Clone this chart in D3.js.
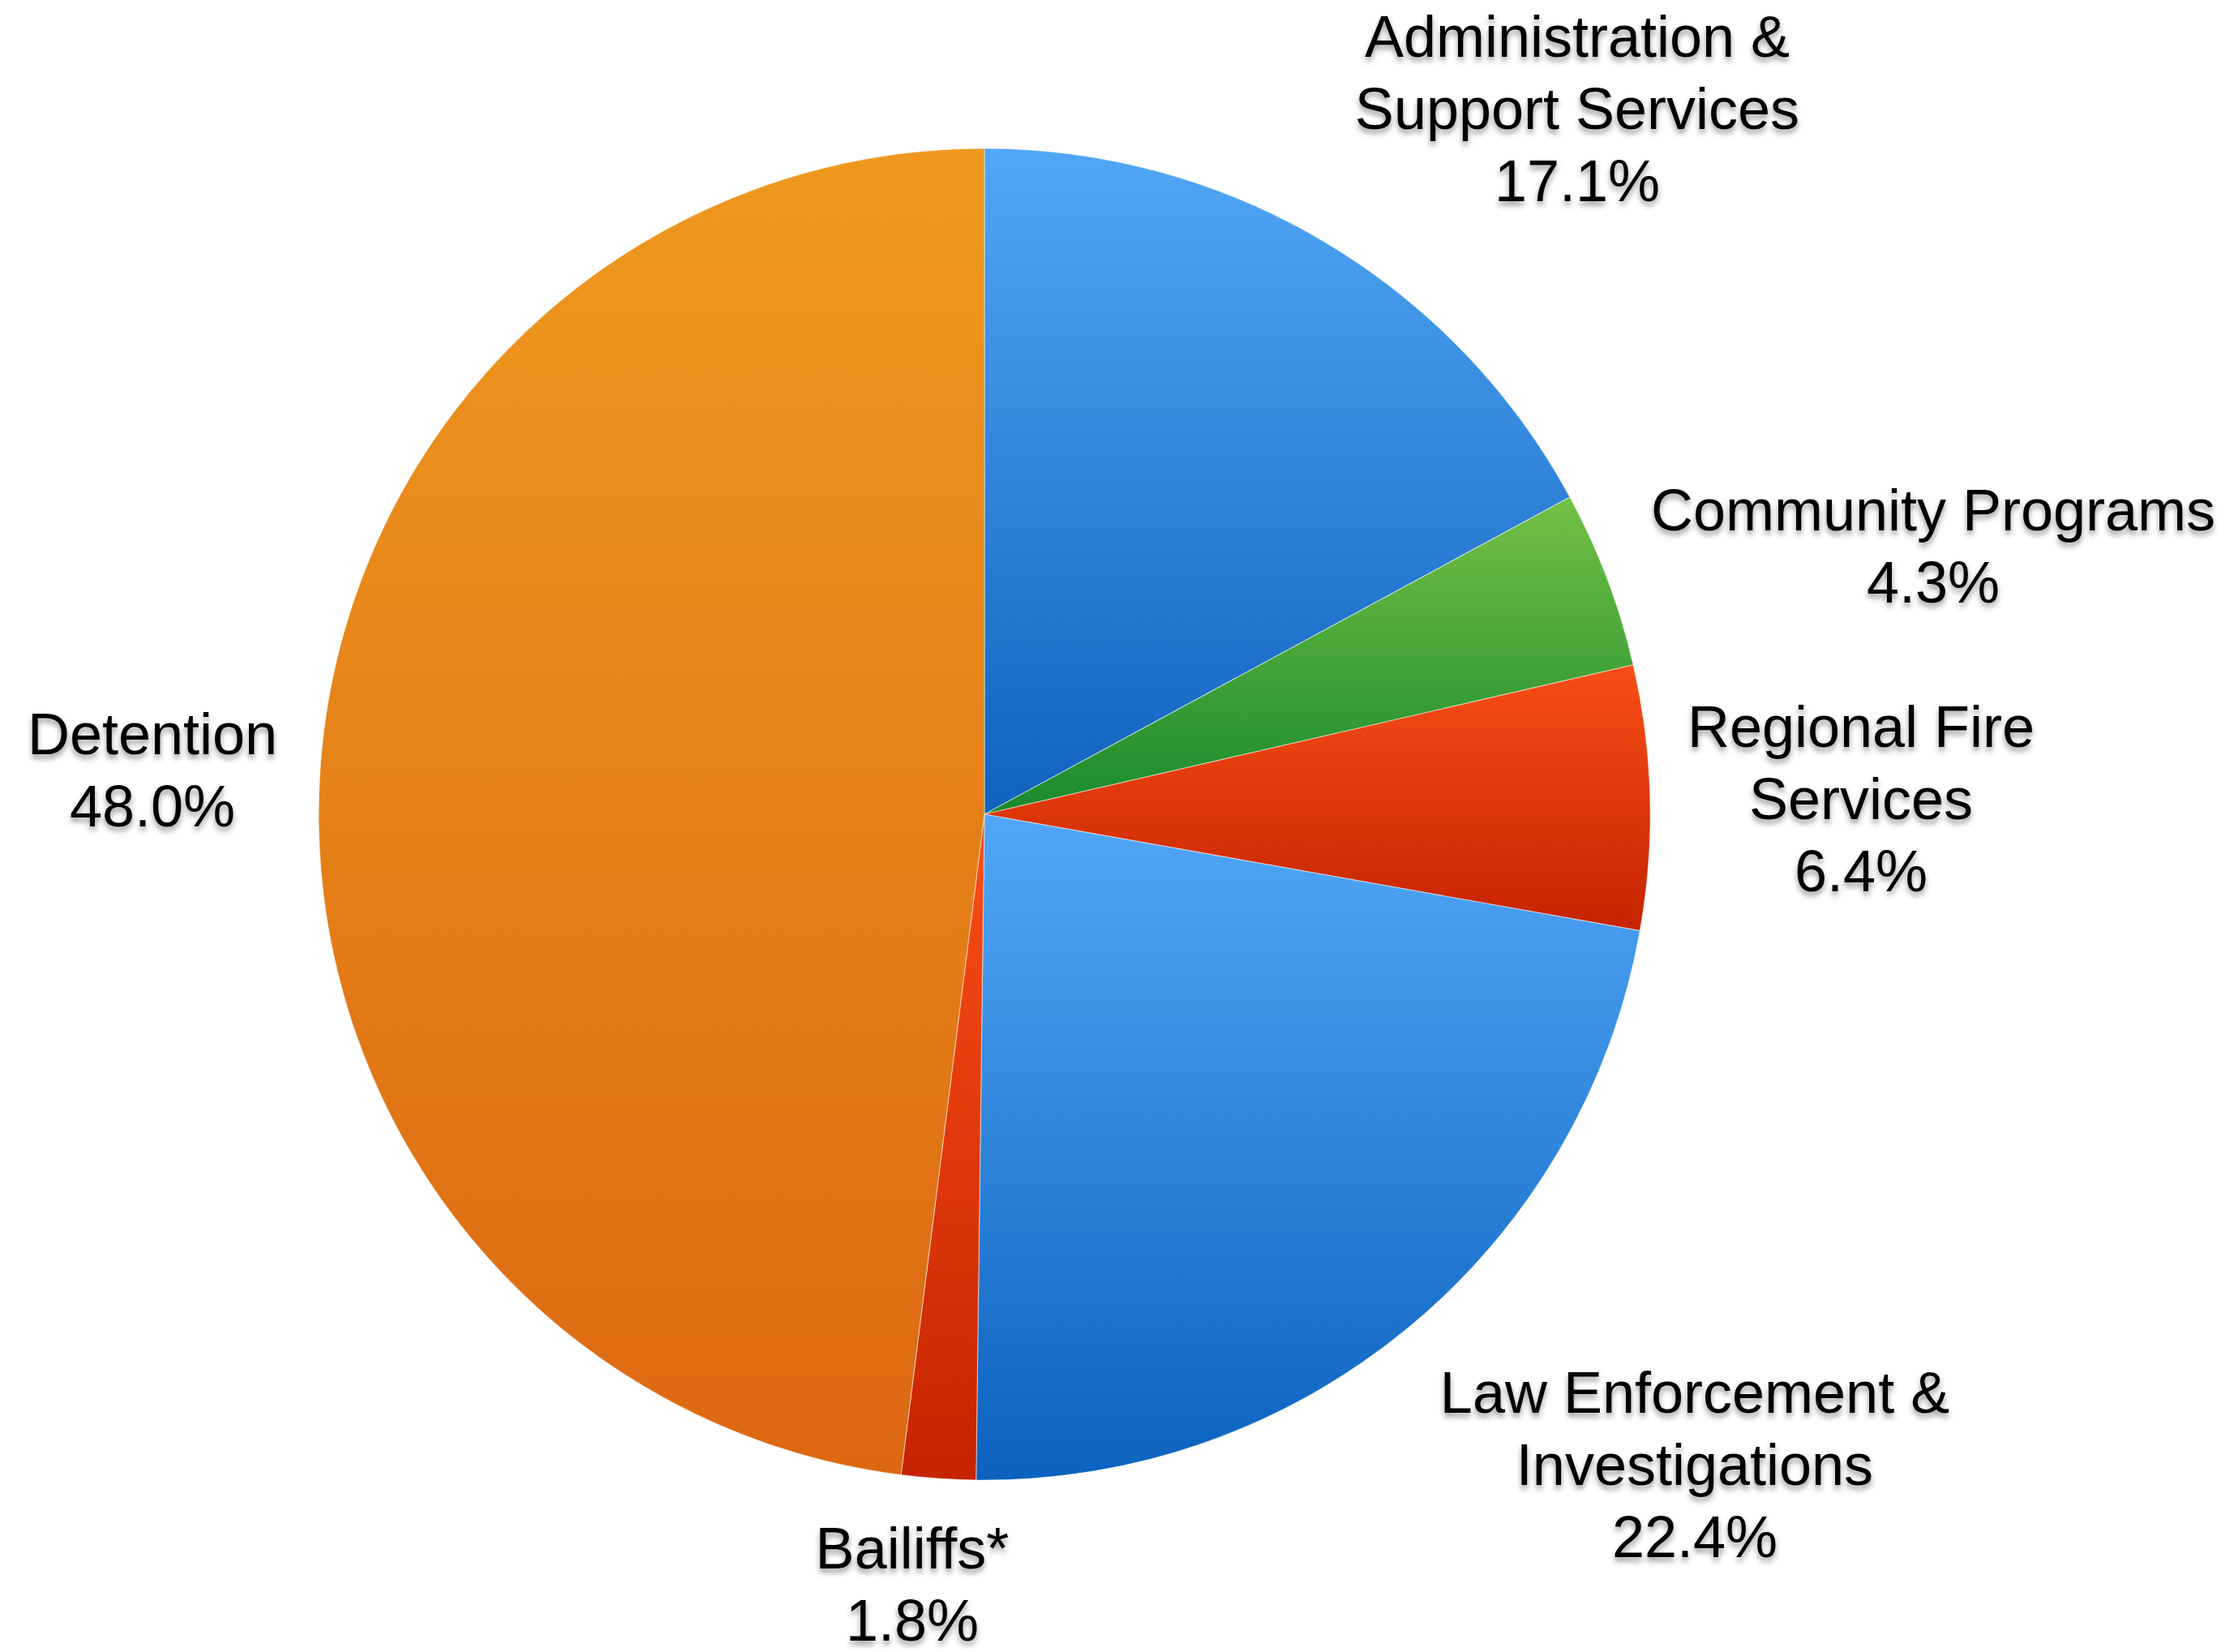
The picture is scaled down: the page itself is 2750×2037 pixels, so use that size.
<!DOCTYPE html>
<html>
<head>
<meta charset="utf-8">
<script src="https://cdn.jsdelivr.net/npm/d3@7"></script>
<style>
  html, body { margin: 0; padding: 0; background: #ffffff; }
  svg { display: block; }
  text { font-family: "Liberation Sans", Arial, Helvetica, sans-serif; }
</style>
</head>
<body>
<script>
// ---- data ----
const categories = ["Administration & Support Services", "Community Programs", "Regional Fire Services",
                    "Law Enforcement & Investigations", "Bailiffs*", "Detention"];
const values = [17.1, 4.3, 6.4, 22.4, 1.8, 48.0];
const labelLines = [
  ["Administration &", "Support Services"],
  ["Community Programs"],
  ["Regional Fire", "Services"],
  ["Law Enforcement &", "Investigations"],
  ["Bailiffs*"],
  ["Detention"]
];
const valueLabels = ["17.1%", "4.3%", "6.4%", "22.4%", "1.8%", "48.0%"];

// ---- styling / layout ----
const W = 2750, H = 2037;
const cx = 1214, cy = 1004, R = 821;
const gradTop = ["#51a7f6", "#74c044", "#f84e17", "#51a7f6", "#f84e17", "#ee991e"];
const gradBot = ["#0f62be", "#188a2d", "#c52300", "#0b62bf", "#c62400", "#dc6812"];
// label anchor (centre x, first baseline y)
const labelPos = [[1945, 70], [2384, 654], [2295, 921], [2090, 1742], [1125, 1934], [188, 930]];
const fontSize = 72, lineH = 89;

const svg = d3.select("body").append("svg").attr("width", W).attr("height", H);
const defs = svg.append("defs");

const f = defs.append("filter").attr("id", "shadow")
  .attr("x", "-10%").attr("y", "-20%").attr("width", "120%").attr("height", "160%");
f.append("feDropShadow").attr("dx", 0).attr("dy", 5).attr("stdDeviation", 3.5)
  .attr("flood-color", "#000").attr("flood-opacity", 0.4);

categories.forEach((c, i) => {
  const g = defs.append("linearGradient").attr("id", "g" + i)
    .attr("x1", 0).attr("y1", 0).attr("x2", 0).attr("y2", 1);
  g.append("stop").attr("offset", "0%").attr("stop-color", gradTop[i]);
  g.append("stop").attr("offset", "100%").attr("stop-color", gradBot[i]);
});

const pie = d3.pie().sort(null).value(d => d)(values);
const arc = d3.arc().innerRadius(0).outerRadius(R);

const gPie = svg.append("g").attr("transform", `translate(${cx},${cy})`);
gPie.selectAll("path").data(pie).enter().append("path")
  .attr("d", arc)
  .attr("fill", (d, i) => `url(#g${i})`)
  .attr("stroke", "rgba(255,255,255,0.45)")
  .attr("stroke-width", 1.2)
  .attr("stroke-linejoin", "round");

const gLab = svg.append("g").attr("filter", "url(#shadow)");
categories.forEach((c, i) => {
  const lines = labelLines[i].concat([valueLabels[i]]);
  const t = gLab.append("text")
    .attr("text-anchor", "middle")
    .attr("font-size", fontSize)
    .attr("fill", "#000");
  lines.forEach((ln, j) => {
    t.append("tspan").attr("x", labelPos[i][0]).attr("y", labelPos[i][1] + j * lineH).text(ln);
  });
});
</script>
</body>
</html>
